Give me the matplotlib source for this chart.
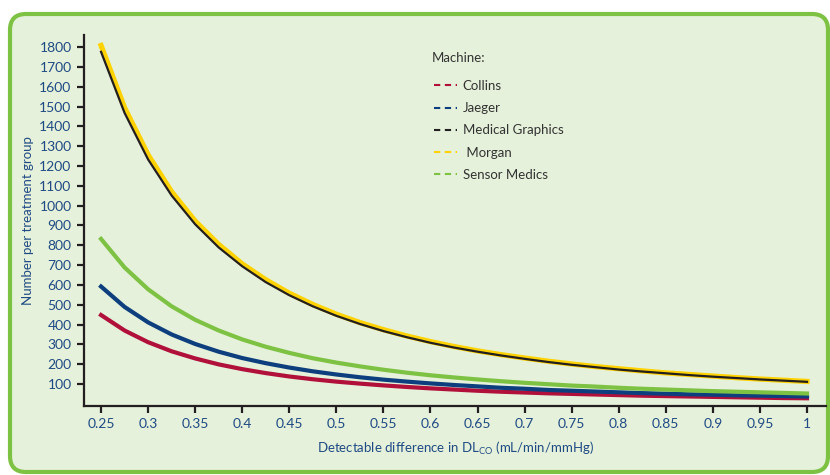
import matplotlib.pyplot as plt
from matplotlib.patches import FancyBboxPatch
from matplotlib.lines import Line2D

# detectable difference (mL/min/mmHg)
diff = [0.25, 0.275, 0.3, 0.325, 0.35, 0.375, 0.4, 0.425, 0.45, 0.475,
        0.5, 0.525, 0.55, 0.575, 0.6, 0.625, 0.65, 0.675, 0.7, 0.725,
        0.75, 0.775, 0.8, 0.825, 0.85, 0.875, 0.9, 0.925, 0.95, 0.975, 1.0]

collins = [448, 370, 311, 265, 229, 199, 175, 155, 138, 124, 112, 102, 93, 85,
           78, 72, 66, 61, 57, 53, 50, 47, 44, 41, 39, 37, 35, 33, 31, 29, 28]
jaeger = [592, 489, 411, 350, 302, 263, 231, 205, 183, 164, 148, 134, 122, 112,
          103, 95, 88, 81, 76, 70, 66, 62, 58, 54, 51, 48, 46, 43, 41, 39, 37]
medical_graphics = [1776, 1468, 1233, 1051, 906, 789, 694, 614, 548, 492, 444,
                    403, 367, 336, 308, 284, 263, 244, 227, 211, 197, 185, 173,
                    163, 154, 145, 137, 130, 123, 117, 111]
morgan = [1808, 1494, 1256, 1070, 922, 804, 706, 626, 558, 501, 452, 410, 374,
          342, 314, 289, 267, 248, 231, 215, 201, 188, 177, 166, 156, 148, 140,
          132, 125, 119, 113]
sensor_medics = [832, 688, 578, 492, 424, 370, 325, 288, 257, 230, 208, 189,
                 172, 157, 144, 133, 123, 114, 106, 99, 92, 87, 81, 76, 72, 68,
                 64, 61, 58, 55, 52]

machines = ['Collins', 'Jaeger', 'Medical Graphics', ' Morgan', 'Sensor Medics']
colors = ['#B0103A', '#0D3F7E', '#231F20', '#FFD200', '#7DC242']

x_ticks = [0.25, 0.3, 0.35, 0.4, 0.45, 0.5, 0.55, 0.6, 0.65, 0.7, 0.75,
           0.8, 0.85, 0.9, 0.95, 1]
x_ticklabels = ['0.25', '0.3', '0.35', '0.4', '0.45', '0.5', '0.55', '0.6',
                '0.65', '0.7', '0.75', '0.8', '0.85', '0.9', '0.95', '1']
y_ticks = list(range(100, 1900, 100))

bg = '#E5F1DA'
blue_text = '#1F4A84'
dark_text = '#333333'
plt.rcParams['font.family'] = ['Lato', 'DejaVu Sans']

fig = plt.figure(figsize=(8.3, 4.75), dpi=100)
fig.patch.set_facecolor('white')

# rounded green panel behind everything
panel = FancyBboxPatch((10, 3), 818, 458,
                       boxstyle='round,pad=0,rounding_size=16',
                       transform=None, facecolor=bg, edgecolor='#7DC242',
                       linewidth=3, zorder=-5)
fig.patches.append(panel)

ax = fig.add_axes([84 / 830, (475 - 406) / 475, (826 - 84) / 830, (406 - 35) / 475])
ax.set_facecolor('none')
ax.set_zorder(2)

ax.plot(diff, collins, color=colors[0], lw=3)
ax.plot(diff, jaeger, color=colors[1], lw=3)
ax.plot(diff, sensor_medics, color=colors[4], lw=3)
ax.plot(diff, morgan, color=colors[3], lw=3.8)
ax.plot(diff, medical_graphics, color=colors[2], lw=1.6)

ax.set_xlim(0.2319, 1.0202)
ax.set_ylim(-11, 1861)
ax.set_xticks(x_ticks)
ax.set_xticklabels(x_ticklabels)
ax.set_yticks(y_ticks)

for side in ['top', 'right']:
    ax.spines[side].set_visible(False)
for side in ['left', 'bottom']:
    ax.spines[side].set_linewidth(1.6)
    ax.spines[side].set_color('#231F20')
ax.tick_params(direction='out', length=5, width=1.6, color='#231F20',
               labelsize=10, labelcolor=blue_text, pad=4)

ax.set_xlabel('Detectable difference in DL$_{\\mathregular{CO}}$ (mL/min/mmHg)',
              fontsize=9.5, color=blue_text, labelpad=7)
ax.set_ylabel('Number per treatment group', fontsize=9.5, color=blue_text,
              labelpad=4)

# legend: title placed on its own, entries below it
ax.text(0.469, 0.939, 'Machine:', transform=ax.transAxes, fontsize=9.5,
        color=dark_text, va='center', ha='left')
handles = [Line2D([0], [0], color=c, lw=1.5, linestyle=(0, (3, 2.2)))
           for c in colors]
ax.legend(handles, machines, loc='upper left',
          bbox_to_anchor=(0.456, 0.911), frameon=False, fontsize=9.5,
          handlelength=1.7, handletextpad=0.45, labelspacing=0.78,
          labelcolor=dark_text)

fig.savefig('out.png', dpi=100, facecolor='white')
